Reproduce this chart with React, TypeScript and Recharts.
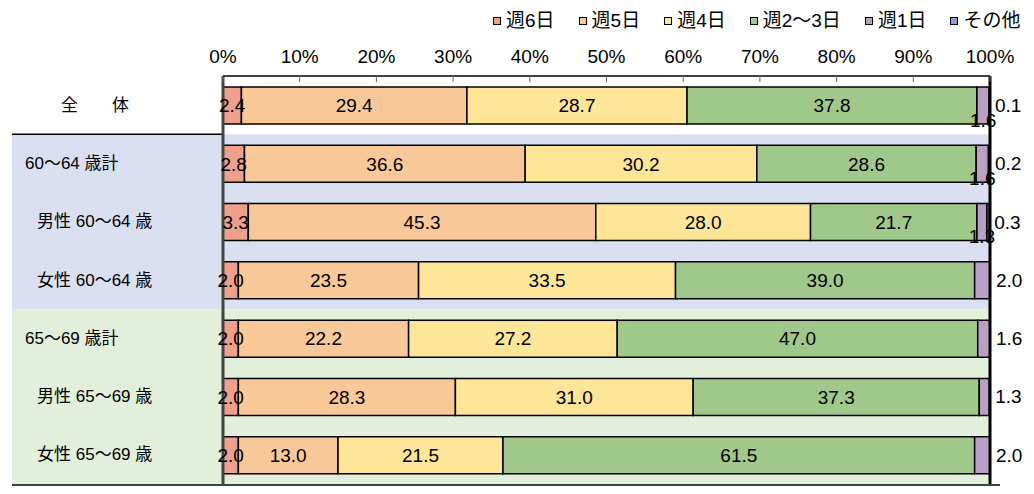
import { Bar, BarChart, LabelList, ReferenceArea, ReferenceLine, XAxis, YAxis } from "recharts";

const categories = [
  "全　　体",
  "60〜64 歳計",
  "男性 60〜64 歳",
  "女性 60〜64 歳",
  "65〜69 歳計",
  "男性 65〜69 歳",
  "女性 65〜69 歳",
];
const week6 = [2.4, 2.8, 3.3, 2.0, 2.0, 2.0, 2.0];
const week5 = [29.4, 36.6, 45.3, 23.5, 22.2, 28.3, 13.0];
const week4 = [28.7, 30.2, 28.0, 33.5, 27.2, 31.0, 21.5];
const week23 = [37.8, 28.6, 21.7, 39.0, 47.0, 37.3, 61.5];
const week1 = [1.6, 1.6, 1.3, 2.0, 1.6, 1.3, 2.0];
const other = [0.1, 0.2, 0.3, 0, 0, 0, 0];
const xTicks = [0, 10, 20, 30, 40, 50, 60, 70, 80, 90, 100];

const series = [
  { key: "w6", name: "週6日", color: "#EEA08C" },
  { key: "w5", name: "週5日", color: "#F8C898" },
  { key: "w4", name: "週4日", color: "#FDE697" },
  { key: "w23", name: "週2〜3日", color: "#A0C88A" },
  { key: "w1", name: "週1日", color: "#B9A0C4" },
  { key: "oth", name: "その他", color: "#8E9CC8" },
];

const data = categories.map((name, i) => ({
  name,
  w6: week6[i],
  w5: week5[i],
  w4: week4[i],
  w23: week23[i],
  w1: week1[i],
  oth: other[i],
}));

const NUM_FONT = "'Liberation Sans Narrow', 'Arial Narrow', sans-serif";
const JP_FONT = "'Liberation Sans', 'Noto Sans CJK JP', sans-serif";
const LABEL_AREA = 211;
const VALUE_SIZE = 19;

function CategoryTick({ y, payload }: any) {
  const text: string = payload.value;
  let x = 17;
  if (text.startsWith("男性") || text.startsWith("女性")) x = 29;
  if (text.startsWith("全")) x = 53;
  return (
    <text x={x} y={y} dominantBaseline="central" fontSize={17} fontFamily={JP_FONT} fill="#000">
      {text}
    </text>
  );
}

function week1Label(props: any) {
  const { x, y, width, height, value, index } = props;
  if (!value) return null;
  const inside = index < 3;
  return (
    <text
      x={inside ? x + width / 2 : x + width + 6}
      y={inside ? y + height - 4 : y + height / 2}
      textAnchor={inside ? "middle" : "start"}
      dominantBaseline="central"
      fontSize={VALUE_SIZE}
      fontFamily={NUM_FONT}
      fill="#000"
    >
      {Number(value).toFixed(1)}
    </text>
  );
}

function otherLabel(props: any) {
  const { x, y, width, height, value } = props;
  if (!value) return null;
  return (
    <text
      x={x + width + 5}
      y={y + height / 2}
      dominantBaseline="central"
      fontSize={VALUE_SIZE}
      fontFamily={NUM_FONT}
      fill="#000"
    >
      {Number(value).toFixed(1)}
    </text>
  );
}

function BlueBand(props: any) {
  const { x, y, width, height } = props;
  return (
    <g>
      <rect x={x - LABEL_AREA} y={y} width={width + LABEL_AREA} height={height} fill="#DAE0F2" />
      <line x1={x - LABEL_AREA} x2={x} y1={y} y2={y} stroke="#000" strokeWidth={1.5} />
    </g>
  );
}

function GreenBand(props: any) {
  const { x, y, width, height } = props;
  return (
    <g>
      <rect x={x - LABEL_AREA} y={y} width={width + LABEL_AREA} height={height} fill="#E2EFDA" />
      <line
        x1={x - LABEL_AREA}
        x2={x + width + 10}
        y1={y + height + 1}
        y2={y + height + 1}
        stroke="#000"
        strokeWidth={1.5}
      />
    </g>
  );
}

function Legend() {
  return (
    <div
      style={{
        position: "absolute",
        top: 1,
        left: 485,
        display: "flex",
        gap: 24,
        fontFamily: JP_FONT,
        fontSize: 19,
        lineHeight: "24px",
      }}
    >
      {series.map((s) => (
        <div key={s.key} style={{ display: "flex", alignItems: "center", gap: 5 }}>
          <span
            style={{
              display: "inline-block",
              width: 6,
              height: 6,
              background: s.color,
              border: "1.5px solid #000",
            }}
          />
          <span>{s.name}</span>
        </div>
      ))}
    </div>
  );
}

export default function App() {
  return (
    <div style={{ position: "relative", width: 1026, height: 486 }}>
      <Legend />
      <BarChart
        width={1026}
        height={486}
        data={data}
        layout="vertical"
        margin={{ top: 38, right: 44, bottom: 10, left: 4 }}
        barSize={37}
      >
        <ReferenceArea y1={categories[1]} y2={categories[3]} shape={BlueBand} />
        <ReferenceArea y1={categories[4]} y2={categories[6]} shape={GreenBand} />
        <XAxis
          type="number"
          orientation="top"
          domain={[0, 100]}
          ticks={xTicks}
          tickFormatter={(v) => `${v}%`}
          height={30}
          tickSize={-6}
          tickMargin={19}
          axisLine={{ stroke: "#000", strokeWidth: 1.5 }}
          tickLine={{ stroke: "#666" }}
          tick={{ fill: "#000", fontSize: 19, fontFamily: NUM_FONT }}
          interval={0}
        />
        <YAxis
          type="category"
          dataKey="name"
          width={LABEL_AREA}
          axisLine={false}
          tickLine={false}
          tick={<CategoryTick />}
          interval={0}
        />
        {series.map((s) => (
          <Bar
            key={s.key}
            dataKey={s.key}
            name={s.name}
            stackId="a"
            fill={s.color}
            stroke="#000"
            strokeWidth={1.5}
            isAnimationActive={false}
          >
            {s.key === "w1" ? (
              <LabelList dataKey={s.key} content={week1Label} />
            ) : s.key === "oth" ? (
              <LabelList dataKey={s.key} content={otherLabel} />
            ) : (
              <LabelList
                dataKey={s.key}
                position="center"
                formatter={(v: any) => Number(v).toFixed(1)}
                fill="#000"
                stroke="none"
                fontSize={VALUE_SIZE}
                fontFamily={NUM_FONT}
              />
            )}
          </Bar>
        ))}
        <ReferenceLine x={0} stroke="#444" strokeWidth={3} />
        <ReferenceLine x={100} stroke="#000" strokeWidth={3} />
      </BarChart>
    </div>
  );
}
